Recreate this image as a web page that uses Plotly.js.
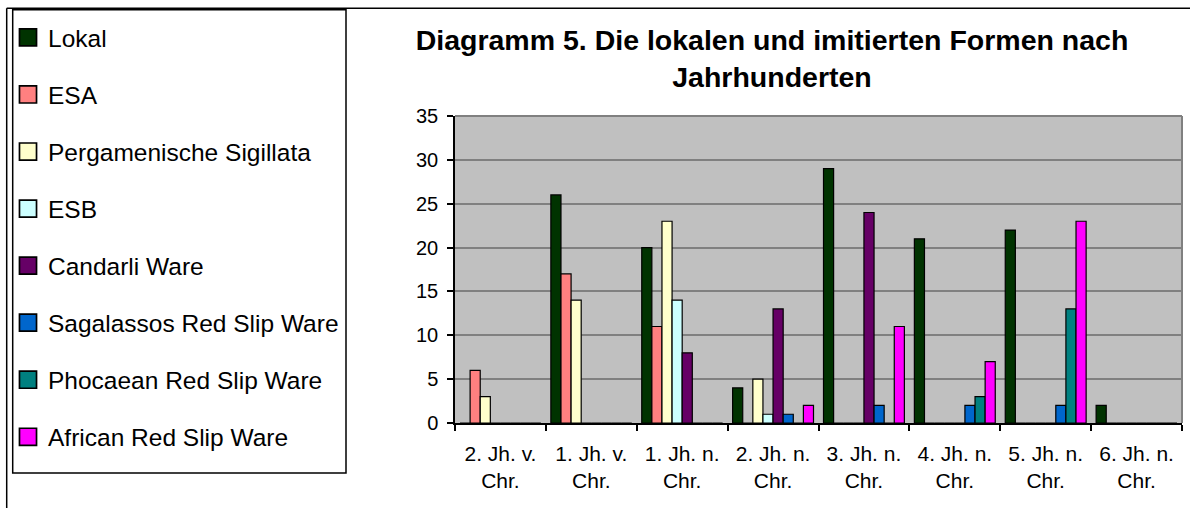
<!DOCTYPE html>
<html>
<head>
<meta charset="utf-8">
<script src="https://cdn.plot.ly/plotly-3.0.1.min.js"></script>
<style>
html,body{margin:0;padding:0;background:#fff;}
#chart{width:1190px;height:508px;}
</style>
</head>
<body>
<div id="chart"></div>
<script>
// ---- data ----
var categories = ["2. Jh. v.<br>Chr.", "1. Jh. v.<br>Chr.", "1. Jh. n.<br>Chr.", "2. Jh. n.<br>Chr.",
                  "3. Jh. n.<br>Chr.", "4. Jh. n.<br>Chr.", "5. Jh. n.<br>Chr.", "6. Jh. n.<br>Chr."];
var seriesNames = ["Lokal", "ESA", "Pergamenische Sigillata", "ESB", "Candarli Ware",
                   "Sagalassos Red Slip Ware", "Phocaean Red Slip Ware", "African Red Slip Ware"];
var lokal      = [0, 26, 20, 4, 29, 21, 22, 2];
var esa        = [6, 17, 11, 0, 0, 0, 0, 0];
var pergamon   = [3, 14, 23, 5, 0, 0, 0, 0];
var esb        = [0, 0, 14, 1, 0, 0, 0, 0];
var candarli   = [0, 0, 8, 13, 24, 0, 0, 0];
var sagalassos = [0, 0, 0, 1, 2, 2, 2, 0];
var phocaean   = [0, 0, 0, 0, 0, 3, 13, 0];
var african    = [0, 0, 0, 2, 11, 7, 23, 0];
var titleText = "Diagramm 5. Die lokalen und imitierten Formen nach<br>Jahrhunderten";

// ---- style ----
var seriesValues = [lokal, esa, pergamon, esb, candarli, sagalassos, phocaean, african];
var colors = ["#003300", "#FF8080", "#FFFFCC", "#CCFFFF", "#660066", "#0066CC", "#008080", "#FF00FF"];
var FONT = "Arial, 'Liberation Sans', sans-serif";

var W = 1190, H = 508;
var M = {l: 455, r: 8, t: 116, b: 85};
var pw = W - M.l - M.r, ph = H - M.t - M.b;
function px2x(p) { return (p - M.l) / pw; }
function px2y(p) { return (H - M.b - p) / ph; }

var traces = seriesNames.map(function (name, i) {
  return {
    type: "bar",
    name: name,
    x: categories,
    y: seriesValues[i],
    legendgroup: "g" + i,
    marker: {color: colors[i], line: {color: "#000000", width: 1.2}},
    hoverinfo: "name+y"
  };
});

var layout = {
  width: W, height: H,
  margin: {l: M.l, r: M.r, t: M.t, b: M.b, autoexpand: false},
  paper_bgcolor: "#ffffff",
  plot_bgcolor: "#C0C0C0",
  font: {family: FONT, color: "#000000", size: 20},
  barmode: "group",
  bargap: 0.11,
  bargroupgap: 0,
  title: {
    text: titleText,
    font: {family: FONT, size: 28.5, color: "#000000", weight: "bold"},
    xref: "container", yref: "container",
    x: 772 / W, xanchor: "center",
    y: 1 - 50 / H, yanchor: "top"
  },
  xaxis: {
    type: "category",
    showline: true, linecolor: "#000000", linewidth: 1.5,
    ticks: "outside", tickson: "boundaries", ticklen: 6, tickwidth: 1.5, tickcolor: "#000000",
    showgrid: false, zeroline: false,
    tickfont: {family: FONT, size: 21, color: "#000000"},
    ticklabelstandoff: 11,
    fixedrange: true
  },
  yaxis: {
    range: [0, 35], dtick: 5, tick0: 0,
    showline: true, linecolor: "#000000", linewidth: 1.5,
    ticks: "outside", ticklen: 6, tickwidth: 1.5, tickcolor: "#000000",
    showgrid: true, gridcolor: "#808080", gridwidth: 1.5,
    zeroline: false,
    tickfont: {family: FONT, size: 20, color: "#000000"},
    ticklabelstandoff: 5,
    fixedrange: true
  },
  showlegend: true,
  legend: {
    xref: "container", yref: "container",
    x: 8 / W, xanchor: "left",
    y: 1 - 15 / H, yanchor: "top",
    orientation: "v",
    traceorder: "grouped",
    tracegroupgap: 22.2,
    maxheight: 600,
    bgcolor: "rgba(0,0,0,0)",
    borderwidth: 0,
    font: {family: FONT, size: 24.5, color: "#000000"}
  },
  shapes: [
    // plot area top & right border (gray)
    {type: "line", xref: "paper", yref: "paper", x0: 0, x1: 1, y0: 1, y1: 1,
     line: {color: "#808080", width: 2}, layer: "above"},
    {type: "line", xref: "paper", yref: "paper", x0: 1, x1: 1, y0: 0, y1: 1,
     line: {color: "#808080", width: 2}, layer: "above"},
    // legend frame
    {type: "rect", xref: "paper", yref: "paper",
     x0: px2x(12.7), x1: px2x(346), y0: px2y(473), y1: px2y(9.7),
     line: {color: "#000000", width: 1.5}, fillcolor: "rgba(0,0,0,0)"},
    // outer chart frame (left and top edges)
    {type: "line", xref: "paper", yref: "paper",
     x0: px2x(6.7), x1: px2x(6.7), y0: px2y(8.3), y1: px2y(510),
     line: {color: "#000000", width: 1.5}},
    {type: "line", xref: "paper", yref: "paper",
     x0: px2x(6.7), x1: px2x(1192), y0: px2y(8.3), y1: px2y(8.3),
     line: {color: "#000000", width: 1.5}}
  ]
};

function enlargeSwatches(gd) {
  var paths = gd.querySelectorAll(".legendpoints path");
  paths.forEach(function (p) {
    var t = p.getAttribute("transform") || "";
    if (t.indexOf("scale") === -1) p.setAttribute("transform", t + " scale(1.42)");
  });
}

Plotly.newPlot("chart", traces, layout, {displayModeBar: false}).then(function (gd) {
  enlargeSwatches(gd);
  gd.on("plotly_afterplot", function () { enlargeSwatches(gd); });
});
</script>
</body>
</html>
